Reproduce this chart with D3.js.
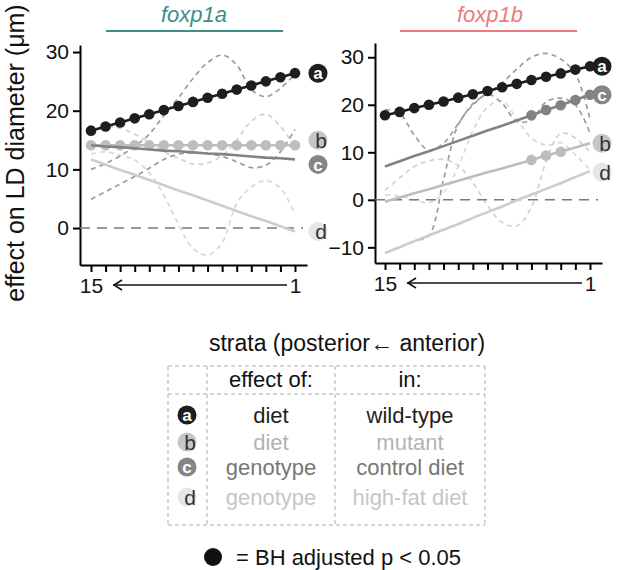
<!DOCTYPE html>
<html>
<head>
<meta charset="utf-8">
<script src="https://cdnjs.cloudflare.com/ajax/libs/d3/7.8.5/d3.min.js"></script>
<style>
  body { margin: 0; background: #fff; }
  svg { font-family: "Liberation Sans", Arial, sans-serif; }
</style>
</head>
<body>
<script>
// Strata (x axis reversed : 15 on the left, 1 on the right)
const strata = [15, 14, 13, 12, 11, 10, 9, 8, 7, 6, 5, 4, 3, 2, 1];
const strataLabels = [15, 1];

// foxp1a : linear fits
const foxp1aFitA = [16.6, 17.3, 18.0, 18.7, 19.4, 20.1, 20.8, 21.5, 22.2, 22.9, 23.6, 24.3, 25.0, 25.7, 26.4];
const foxp1aFitB = [14.1, 14.1, 14.1, 14.1, 14.1, 14.1, 14.1, 14.1, 14.1, 14.1, 14.1, 14.1, 14.1, 14.1, 14.1];
const foxp1aFitC = [14.1, 13.9, 13.8, 13.6, 13.4, 13.2, 13.1, 12.9, 12.7, 12.6, 12.4, 12.2, 12.0, 11.9, 11.7];
const foxp1aFitD = [11.7, 10.8, 9.9, 9.1, 8.2, 7.3, 6.4, 5.6, 4.7, 3.8, 2.9, 2.0, 1.2, 0.3, -0.6];
// foxp1a : smooth curves (dashed)
const foxp1aSmoothA = [10.0, 11.0, 12.3, 13.9, 16.0, 19.2, 22.2, 25.5, 28.2, 29.5, 27.8, 23.6, 22.4, 23.8, 26.3];
const foxp1aSmoothB = [16.3, 17.2, 17.0, 16.0, 14.6, 13.0, 11.9, 10.9, 11.1, 12.3, 15.0, 18.2, 19.4, 17.3, 14.0];
const foxp1aSmoothC = [4.9, 6.2, 7.5, 8.8, 10.2, 11.7, 12.6, 12.8, 12.7, 12.2, 11.3, 10.3, 10.7, 13.0, 16.8];
const foxp1aSmoothD = [12.6, 13.0, 12.4, 11.6, 9.4, 5.6, 0.7, -3.5, -4.6, -2.5, 4.2, 7.0, 8.1, 6.8, 2.3];
// foxp1a : strata with BH adjusted p < 0.05
const foxp1aSigA = [15, 14, 13, 12, 11, 10, 9, 8, 7, 6, 5, 4, 3, 2, 1];
const foxp1aSigB = [15, 14, 13, 12, 11, 10, 9, 8, 7, 6, 5, 4, 3, 2, 1];
const foxp1aSigC = [];
const foxp1aSigD = [];

// foxp1b : linear fits
const foxp1bFitA = [17.8, 18.5, 19.3, 20.0, 20.7, 21.5, 22.2, 22.9, 23.7, 24.4, 25.2, 25.9, 26.6, 27.4, 28.1];
const foxp1bFitB = [-0.4, 0.5, 1.4, 2.2, 3.1, 4.0, 4.9, 5.8, 6.6, 7.5, 8.4, 9.3, 10.1, 11.0, 11.9];
const foxp1bFitC = [7.0, 8.1, 9.2, 10.2, 11.3, 12.4, 13.5, 14.6, 15.6, 16.7, 17.8, 18.9, 19.9, 21.0, 22.1];
const foxp1bFitD = [-11.2, -10.0, -8.7, -7.5, -6.3, -5.1, -3.8, -2.6, -1.4, -0.1, 1.1, 2.3, 3.5, 4.8, 6.0];
// foxp1b : smooth curves (dashed)
const foxp1bSmoothA = [19.0, 18.2, 13.6, 10.4, 11.9, 16.0, 20.2, 22.4, 24.6, 27.5, 30.0, 30.8, 29.6, 26.5, 17.0];
const foxp1bSmoothB = [2.0, 4.6, 7.0, 8.2, 8.5, 7.2, 3.6, -1.2, -4.8, -5.5, -1.5, 8.0, 14.0, 13.0, 10.0];
const foxp1bSmoothC = [-11.2, -10.0, -8.7, -7.5, 4.3, 15.8, 19.9, 22.2, 20.3, 16.5, 16.8, 20.6, 21.4, 20.0, 14.0];
const foxp1bSmoothD = [1.0, 0.8, 0.0, -0.6, 1.5, 7.0, 14.5, 19.5, 20.8, 17.0, 13.0, 11.5, 12.0, 9.5, 6.3];
// foxp1b : strata with BH adjusted p < 0.05
const foxp1bSigA = [15, 14, 13, 12, 11, 10, 9, 8, 7, 6, 5, 4, 3, 2, 1];
const foxp1bSigB = [5, 4, 3];
const foxp1bSigC = [5, 4, 3, 2, 1];
const foxp1bSigD = [];

// Table of the comparisons
const seriesKeys = ["a", "b", "c", "d"];
const effectOf = ["diet", "diet", "genotype", "genotype"];
const effectIn = ["wild-type", "mutant", "control diet", "high-fat diet"];

//---------------------------------------------------------------------------------------

// Styles per series
const style = {
  a: { line: "#1e1e1e", dash: "#9c9c9c", badge: "#1e1e1e", letter: "#fff", dx: 0, text: "#1e1e1e" },
  b: { line: "#bdbdbd", dash: "#d2d2d2", badge: "#c6c6c6", letter: "#333", dx: 3, text: "#b3b3b3" },
  c: { line: "#828282", dash: "#9c9c9c", badge: "#858585", letter: "#fff", dx: 0, text: "#777" },
  d: { line: "#cdcdcd", dash: "#d8d8d8", badge: "#e6e6e6", letter: "#333", dx: 3, text: "#c6c6c6" },
};

// Panels configuration
const panels = [
  {
    gene: "foxp1a", color: "#3e8d88",
    xRange: [80, 307], xDomain: [15.755, 0.176], axisY: 265,
    yRange: [265, 45], yDomain: [-6.3, 31.2], yTicks: [0, 10, 20, 30],
    titleX: 194, bar: [106, 283], labelX: 318,
    fit: { a: foxp1aFitA, b: foxp1aFitB, c: foxp1aFitC, d: foxp1aFitD },
    smooth: { a: foxp1aSmoothA, b: foxp1aSmoothB, c: foxp1aSmoothC, d: foxp1aSmoothD },
    sig: { a: foxp1aSigA, b: foxp1aSigB, c: foxp1aSigC, d: foxp1aSigD },
    nudge: { a: 0, b: -5, c: 5, d: 0 },
  },
  {
    gene: "foxp1b", color: "#ee7a80",
    xRange: [375, 602], xDomain: [15.683, 0.18], axisY: 263,
    yRange: [263, 43], yDomain: [-13.3, 33], yTicks: [-10, 0, 10, 20, 30],
    titleX: 490, bar: [400, 577], labelX: 602,
    fit: { a: foxp1bFitA, b: foxp1bFitB, c: foxp1bFitC, d: foxp1bFitD },
    smooth: { a: foxp1bSmoothA, b: foxp1bSmoothB, c: foxp1bSmoothC, d: foxp1bSmoothD },
    sig: { a: foxp1bSigA, b: foxp1bSigB, c: foxp1bSigC, d: foxp1bSigD },
    nudge: { a: 0, b: 0, c: 0, d: 1 },
  },
];

//---------------------------------------------------------------------------------------

// SVG canvas
const svg = d3.select("body")
  .append("svg")
  .attr("width", 617)
  .attr("height", 570);

// Badge with a letter (a, b, c, d)
const badge = (g, key, x, y) => {
  const s = style[key];
  g.append("circle")
    .attr("cx", x)
    .attr("cy", y)
    .attr("r", 9.5)
    .attr("fill", s.badge);
  g.append("text")
    .attr("x", x + s.dx)
    .attr("y", y)
    .attr("dy", "0.36em")
    .attr("text-anchor", "middle")
    .attr("font-size", s.dx ? 21 : 17)
    .attr("font-weight", s.dx ? "normal" : "bold")
    .attr("fill", s.letter)
    .text(key);
};

panels.forEach((p) => {
  const scaleX = d3.scaleLinear().domain(p.xDomain).range(p.xRange);
  const scaleY = d3.scaleLinear().domain(p.yDomain).range(p.yRange);
  const g = svg.append("g");

  // Title + coloured bar
  g.append("text")
    .attr("x", p.titleX)
    .attr("y", 22)
    .attr("text-anchor", "middle")
    .attr("font-size", 22)
    .attr("font-style", "italic")
    .attr("fill", p.color)
    .text(p.gene);
  g.append("line")
    .attr("x1", p.bar[0]).attr("x2", p.bar[1])
    .attr("y1", 31).attr("y2", 31)
    .attr("stroke", p.color)
    .attr("stroke-width", 2);

  // Y axis
  g.append("g")
    .attr("transform", `translate(${p.xRange[0]}, 0)`)
    .call(d3.axisLeft(scaleY).tickValues(p.yTicks).tickSize(7).tickSizeOuter(0).tickPadding(4))
    .call((ax) => ax.selectAll("path, line").attr("stroke", "#000").attr("stroke-width", 2))
    .call((ax) => ax.selectAll("text").attr("font-size", 21).attr("fill", "#111")
      .attr("font-family", "'Liberation Sans', Arial, sans-serif"));

  // X axis (ticks on every stratum, labels only at 15 and 1)
  g.append("g")
    .attr("transform", `translate(0, ${p.axisY})`)
    .call(d3.axisBottom(scaleX).tickValues(strata).tickSize(7).tickSizeOuter(0).tickPadding(6)
      .tickFormat((d) => (strataLabels.includes(d) ? d : "")))
    .call((ax) => ax.selectAll("path, line").attr("stroke", "#000").attr("stroke-width", 2))
    .call((ax) => ax.selectAll("text").attr("font-size", 21).attr("fill", "#111")
      .attr("font-family", "'Liberation Sans', Arial, sans-serif"));

  // Arrow from 1 to 15
  const arrowY = p.axisY + 20;
  const tip = scaleX(strata[0]) + 22;
  const tail = scaleX(strata[strata.length - 1]) - 8;
  g.append("line")
    .attr("x1", tip).attr("x2", tail)
    .attr("y1", arrowY).attr("y2", arrowY)
    .attr("stroke", "#111").attr("stroke-width", 1.6);
  g.append("path")
    .attr("d", `M${tip + 9},${arrowY - 5} L${tip + 1},${arrowY} L${tip + 9},${arrowY + 5}`)
    .attr("fill", "none").attr("stroke", "#111").attr("stroke-width", 1.6);

  // Smooth dashed curves
  const smoothLine = d3.line()
    .x((d, i) => scaleX(strata[i]))
    .y((d) => scaleY(d))
    .curve(d3.curveCatmullRom.alpha(0.5));
  ["d", "b", "c", "a"].forEach((k) => {
    g.append("path")
      .datum(p.smooth[k])
      .attr("d", smoothLine)
      .attr("fill", "none")
      .attr("stroke", style[k].dash)
      .attr("stroke-width", 1.7)
      .attr("stroke-dasharray", "5,4");
  });

  // Zero line
  g.append("line")
    .attr("x1", p.xRange[0]).attr("x2", p.xRange[1] - 4)
    .attr("y1", scaleY(0)).attr("y2", scaleY(0))
    .attr("stroke", "#7a7a7a").attr("stroke-width", 1.6)
    .attr("stroke-dasharray", "10,7");

  // Linear fits + significant strata
  const fitLine = d3.line()
    .x((d, i) => scaleX(strata[i]))
    .y((d) => scaleY(d));
  ["d", "b", "c", "a"].forEach((k) => {
    g.append("path")
      .datum(p.fit[k])
      .attr("d", fitLine)
      .attr("fill", "none")
      .attr("stroke", style[k].line)
      .attr("stroke-width", 2.6);
    g.selectAll(`.dot-${k}`)
      .data(p.sig[k])
      .join("circle")
      .attr("class", `dot-${k}`)
      .attr("cx", (s) => scaleX(s))
      .attr("cy", (s) => scaleY(p.fit[k][strata.indexOf(s)]))
      .attr("r", 5.3)
      .attr("fill", style[k].line);
  });

  // End labels
  seriesKeys.forEach((k) => {
    const last = p.fit[k][p.fit[k].length - 1];
    badge(g, k, p.labelX, scaleY(last) + p.nudge[k]);
  });
});

//---------------------------------------------------------------------------------------

// Axis titles
svg.append("text")
  .attr("transform", "translate(24, 153) rotate(-90)")
  .attr("text-anchor", "middle")
  .attr("font-size", 25)
  .attr("fill", "#111")
  .text("effect on LD diameter (μm)");

svg.append("text")
  .attr("x", 347)
  .attr("y", 351)
  .attr("text-anchor", "middle")
  .attr("font-size", 23)
  .attr("fill", "#111")
  .text("strata (posterior\u2190 anterior)");

//---------------------------------------------------------------------------------------

// Table
const tbl = { left: 168, col1: 207, col2: 335, right: 485, top: 366, head: 394, bottom: 525 };
const rowY = [415, 442, 467, 497];
const dashed = (x1, y1, x2, y2) => svg.append("line")
  .attr("x1", x1).attr("y1", y1).attr("x2", x2).attr("y2", y2)
  .attr("stroke", "#c9c9c9").attr("stroke-width", 1.5).attr("stroke-dasharray", "4,3");

dashed(tbl.left, tbl.top, tbl.right, tbl.top);
dashed(tbl.left, tbl.head, tbl.right, tbl.head);
dashed(tbl.left, tbl.bottom, tbl.right, tbl.bottom);
[tbl.left, tbl.col1, tbl.col2, tbl.right].forEach((x) => dashed(x, tbl.top, x, tbl.bottom));

svg.append("text")
  .attr("x", (tbl.col1 + tbl.col2) / 2).attr("y", 387)
  .attr("text-anchor", "middle").attr("font-size", 22).attr("fill", "#111")
  .text("effect of:");
svg.append("text")
  .attr("x", (tbl.col2 + tbl.right) / 2).attr("y", 387)
  .attr("text-anchor", "middle").attr("font-size", 22).attr("fill", "#111")
  .text("in:");

seriesKeys.forEach((k, i) => {
  badge(svg, k, 187, rowY[i]);
  svg.append("text")
    .attr("x", (tbl.col1 + tbl.col2) / 2).attr("y", rowY[i])
    .attr("dy", "0.36em").attr("text-anchor", "middle")
    .attr("font-size", 22).attr("fill", style[k].text)
    .text(effectOf[i]);
  svg.append("text")
    .attr("x", (tbl.col2 + tbl.right) / 2).attr("y", rowY[i])
    .attr("dy", "0.36em").attr("text-anchor", "middle")
    .attr("font-size", 22).attr("fill", style[k].text)
    .text(effectIn[i]);
});

// Legend of the dots
svg.append("circle")
  .attr("cx", 213).attr("cy", 557).attr("r", 9)
  .attr("fill", "#111");
svg.append("text")
  .attr("x", 236).attr("y", 557)
  .attr("dy", "0.36em")
  .attr("font-size", 22).attr("fill", "#111")
  .text("= BH adjusted p < 0.05");
</script>
</body>
</html>
